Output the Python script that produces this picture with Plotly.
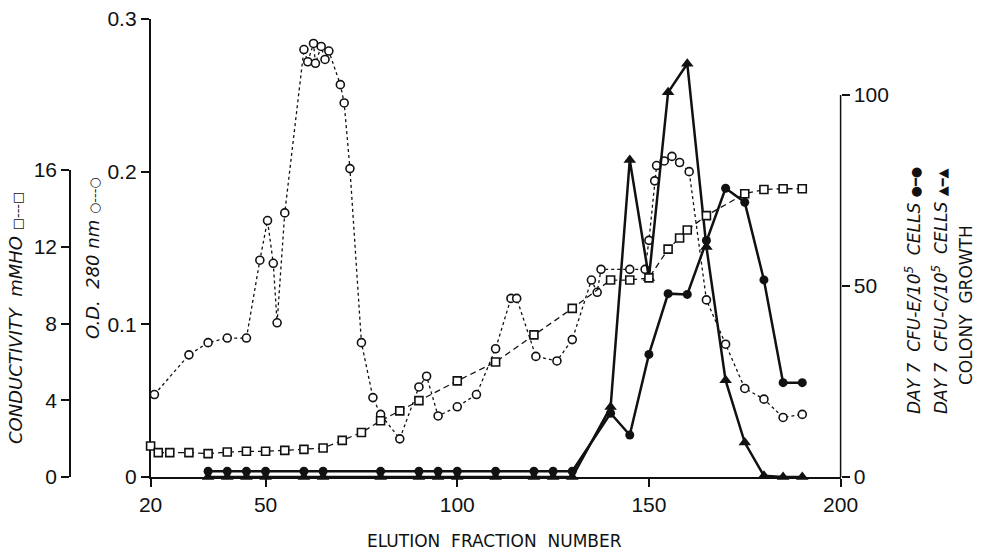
import plotly.graph_objects as go

# ---- data ----
od_x = [21, 30, 35, 40, 45, 48.5, 50.5, 52, 53, 55, 60, 61, 62.5, 63, 64.5, 65.5, 66.5,
        69.5, 70.5, 72, 75, 78, 80, 85, 90, 92, 95, 100, 105, 110, 114, 115.5, 120.5,
        126, 130, 135, 136.5, 137.5, 145, 149, 150, 151.5, 152, 154, 156, 158, 160.5,
        165, 170, 175, 180, 185, 190]
od_y = [0.054, 0.080, 0.088, 0.091, 0.091, 0.142, 0.168, 0.140, 0.101, 0.173, 0.280,
        0.272, 0.284, 0.271, 0.282, 0.2735, 0.279, 0.257, 0.245, 0.202, 0.088, 0.052,
        0.041, 0.025, 0.059, 0.066, 0.040, 0.046, 0.054, 0.084, 0.117, 0.117, 0.079,
        0.076, 0.090, 0.129, 0.121, 0.136, 0.136, 0.136, 0.155, 0.194, 0.204, 0.207,
        0.210, 0.206, 0.200, 0.116, 0.087, 0.058, 0.051, 0.039, 0.041]

cond_x = [20, 22, 25, 30, 35, 40, 45, 50, 55, 60, 65, 70, 75, 80, 85, 90, 100, 110, 120,
          130, 140, 145, 150, 155, 158, 160, 165, 175, 180, 185, 190]
cond_y = [1.62, 1.27, 1.27, 1.27, 1.22, 1.30, 1.34, 1.34, 1.39, 1.44, 1.51, 1.91, 2.32,
          2.93, 3.45, 3.98, 5.01, 6.0, 7.41, 8.79, 10.27, 10.27, 10.38, 11.88, 12.46,
          12.88, 13.63, 14.77, 14.99, 15.03, 15.03]

cfu_x = [35, 40, 45, 50, 60, 65, 80, 90, 95, 100, 110, 120, 125, 130,
         140, 145, 150, 155, 160, 165, 170, 175, 180, 185, 190]
cfu_e = [1.5, 1.5, 1.5, 1.5, 1.5, 1.5, 1.5, 1.5, 1.5, 1.5, 1.5, 1.5, 1.5, 1.5,
         16.7, 11.0, 32.1, 48.0, 47.8, 61.9, 75.6, 71.9, 51.6, 24.7, 24.7]
cfu_c = [0, 0, 0, 0, 0, 0, 0, 0, 0, 0, 0, 0, 0, 0,
         18.3, 83.0, 52.1, 100.7, 108.2, 60.2, 25.3, 9.0, 0.3, 0, 0]

x_ticks = [20, 50, 100, 150, 200]
od_ticks = [0, 0.1, 0.2, 0.3]
od_ticktext = ["0", "0.1", "0.2", "0.3"]
cond_ticks = [0, 4, 8, 12, 16]
cfu_ticks = [0, 50, 100]

# ---- geometry ----
W, H = 984, 553
ML, MR, MT, MB = 0, 0, 19, 76
PX0, PX1 = 150.6, 840.6
PH = H - MT - MB
FONT = "Liberation Sans, Arial, DejaVu Sans, sans-serif"
TFONT = "DejaVu Sans, Liberation Sans, sans-serif"
INK = "#111111"

fig = go.Figure()

fig.add_trace(go.Scatter(
    x=cfu_x, y=cfu_c, xaxis="x", yaxis="y2", mode="lines+markers",
    line=dict(color=INK, width=2.5),
    marker=dict(symbol="triangle-up", size=11, color=INK),
    showlegend=False, cliponaxis=False))
fig.add_trace(go.Scatter(
    x=cfu_x, y=cfu_e, xaxis="x", yaxis="y2", mode="lines+markers",
    line=dict(color=INK, width=2.5),
    marker=dict(symbol="circle", size=9, color=INK),
    showlegend=False, cliponaxis=False))
fig.add_trace(go.Scatter(
    x=cond_x, y=cond_y, xaxis="x", yaxis="y3", mode="lines+markers",
    line=dict(color=INK, width=1.3, dash="6px,4px"),
    marker=dict(symbol="square", size=8, color="white", line=dict(color=INK, width=1.6)),
    showlegend=False, cliponaxis=False))
fig.add_trace(go.Scatter(
    x=od_x, y=od_y, xaxis="x", yaxis="y", mode="lines+markers",
    line=dict(color=INK, width=1.3, dash="3px,3px"),
    marker=dict(symbol="circle", size=8, color="white", line=dict(color=INK, width=1.6)),
    showlegend=False, cliponaxis=False))

tickfont = dict(family=FONT, size=21, color=INK)
common = dict(showgrid=False, zeroline=False, showline=True, linecolor=INK, linewidth=1.5,
              ticks="outside", ticklen=8, tickwidth=1.5, tickcolor=INK, tickfont=tickfont,
              automargin=False)

cfu_top = 119.9

fig.update_layout(
    width=W, height=H,
    margin=dict(l=ML, r=MR, t=MT, b=MB, autoexpand=False),
    paper_bgcolor="white", plot_bgcolor="rgba(0,0,0,0)",
    font=dict(family=FONT, color=INK),
    xaxis=dict(domain=[PX0 / W, PX1 / W], range=[20, 200], tickvals=x_ticks,
               anchor="y", **common),
    yaxis=dict(domain=[0, 1], range=[0, 0.3], tickvals=od_ticks, ticktext=od_ticktext,
               anchor="x", **common),
    yaxis2=dict(domain=[0, 1], range=[0, cfu_top], tickvals=cfu_ticks, anchor="x",
                side="right", showgrid=False, zeroline=False, showline=False,
                ticks="outside", ticklen=8, tickwidth=1.5, tickcolor=INK, tickfont=tickfont,
                automargin=False),
    yaxis3=dict(domain=[0, 0.67], range=[0, 16], tickvals=cond_ticks, anchor="free",
                position=70 / W, **common),
)

# right axis line stops at 100
fig.add_shape(type="line", xref="paper", yref="y2", x0=PX1 / W, x1=PX1 / W,
              y0=0, y1=100, line=dict(color=INK, width=1.5))

def px_x(p):
    return p / W

def px_y(p):
    return (H - MB - p) / PH

def sym(s):
    return '<span style="font-size:13px">' + s + '</span>'

ann = [
    dict(text="ELUTION  FRACTION  NUMBER", x=px_x(494), y=px_y(541), textangle=0, size=17, family=TFONT),
    dict(text="<i>CONDUCTIVITY  mMHO</i> " + sym("□---□"), x=px_x(15), y=px_y(318), textangle=-90, size=18, family=TFONT),
    dict(text="<i>O.D.  280 nm</i> " + sym("○---○"), x=px_x(92), y=px_y(258), textangle=-90, size=18, family=TFONT),
    dict(text="<i>DAY 7  CFU-E/10<sup>5</sup>  CELLS</i> " + sym("●━●"), x=px_x(913), y=px_y(291), textangle=-90, size=17, family=TFONT),
    dict(text="<i>DAY 7  CFU-C/10<sup>5</sup>  CELLS</i> " + sym("▲━▲"), x=px_x(940), y=px_y(291), textangle=-90, size=17, family=TFONT),
    dict(text="COLONY  GROWTH", x=px_x(966), y=px_y(305), textangle=-90, size=17, family=TFONT),
]
for a in ann:
    fig.add_annotation(text=a["text"], x=a["x"], y=a["y"], xref="paper", yref="paper",
                       xanchor="center", yanchor="middle", textangle=a["textangle"],
                       showarrow=False, font=dict(family=a["family"], size=a["size"], color=INK))

fig.write_html("out.html")
